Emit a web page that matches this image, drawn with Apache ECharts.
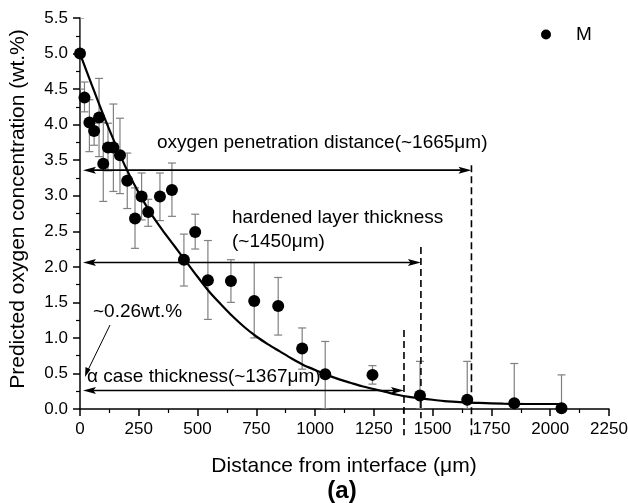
<!DOCTYPE html>
<html>
<head>
<meta charset="utf-8">
<script src="https://cdn.jsdelivr.net/npm/echarts@6/dist/echarts.min.js"></script>
<style>html,body{margin:0;padding:0;background:#fff}#c{width:628px;height:503px}</style>
</head>
<body>
<div id="c"></div>
<script>
// measured points (distance μm, oxygen wt.%)
const distances = [0, 19, 40, 60, 81, 99, 119, 142, 170, 201, 234, 262, 290, 340, 391, 442, 490, 544, 642, 741, 843, 945, 1043, 1244, 1446, 1647, 1847, 2048];
const oxygen    = [5.0, 4.38, 4.03, 3.91, 4.10, 3.45, 3.68, 3.68, 3.57, 3.21, 2.68, 2.99, 2.77, 2.99, 3.08, 2.10, 2.49, 1.81, 1.80, 1.52, 1.45, 0.85, 0.49, 0.48, 0.19, 0.13, 0.08, 0.01];
const errLow    = [4.5, 4.18, 3.62, 3.71, 3.55, 2.92, 3.35, 3.06, 3.03, 2.82, 2.26, 2.66, 2.57, 2.65, 2.71, 1.73, 2.25, 1.26, 1.50, 1.00, 1.04, 0.56, 0.0, 0.35, 0.0, 0.0, 0.0, 0.0];
const errHigh   = [5.5, 4.60, 4.35, 4.02, 4.65, 4.03, 4.02, 4.29, 4.09, 3.60, 3.11, 3.32, 2.95, 3.32, 3.46, 2.46, 2.74, 2.37, 2.10, 2.06, 1.85, 1.14, 0.95, 0.61, 0.67, 0.67, 0.64, 0.48];
// fitted curve
const fitX = [0, 50, 100, 150, 200, 250, 300, 350, 400, 450, 500, 550, 600, 650, 700, 750, 800, 850, 900, 950, 1000, 1050, 1100, 1150, 1200, 1250, 1300, 1350, 1400, 1450, 1500, 1550, 1600, 1650, 1700, 1800, 1900, 2000, 2050];
const fitY = [5.0, 4.56, 4.13, 3.73, 3.36, 3.04, 2.76, 2.52, 2.30, 2.08, 1.86, 1.65, 1.47, 1.30, 1.15, 1.02, 0.91, 0.81, 0.71, 0.62, 0.55, 0.48, 0.42, 0.37, 0.32, 0.28, 0.24, 0.20, 0.17, 0.15, 0.13, 0.11, 0.10, 0.09, 0.085, 0.075, 0.07, 0.07, 0.07];
// annotation levels
const arrowLevels = [3.36, 2.06, 0.26];
const arrowEnds   = [1665, 1450, 1378];
const dashX       = [1378, 1450, 1665];
const dashTop     = [1.11, 2.28, 3.43];
const dashBottom  = [-0.37, -0.13, -0.37];
const xTicks = { min: 0, max: 2250, step: 250 };
const yTicks = { min: 0, max: 5.5, step: 0.5 };

const FONT = 'Liberation Sans, Arial, sans-serif';
const chart = echarts.init(document.getElementById('c'), null, { renderer: 'canvas' });

function arrowHead(tip, dir) { // dir: -1 left, +1 right
  const L = 13, W = 3.5;
  return [tip, [tip[0] - dir * L, tip[1] - W], [tip[0] - dir * L * 0.8, tip[1]], [tip[0] - dir * L, tip[1] + W]];
}

const option = {
  backgroundColor: '#fff',
  animation: false,
  grid: { left: 80, right: 19, top: 18, bottom: 94, containLabel: false, outerBoundsMode: 'none' },
  legend: {
    data: [{ name: 'M', icon: 'circle' }],
    left: 536, top: 20, itemWidth: 10, itemHeight: 10,
    itemStyle: { opacity: 1 },
    textStyle: { fontSize: 19, fontFamily: FONT, color: '#000', padding: [0, 0, 0, 20] }
  },
  xAxis: {
    type: 'value', min: xTicks.min, max: xTicks.max, interval: xTicks.step,
    axisLine: { show: true, lineStyle: { color: '#000', width: 1.5 } },
    axisTick: { show: true, length: 7, lineStyle: { color: '#000', width: 1.5 } },
    minorTick: { show: true, splitNumber: 2, length: 4, lineStyle: { color: '#000', width: 1.2 } },
    splitLine: { show: false },
    axisLabel: { fontSize: 17, fontFamily: FONT, color: '#000', margin: 12, formatter: v => String(v) }
  },
  yAxis: {
    type: 'value', min: yTicks.min, max: yTicks.max, interval: yTicks.step,
    axisLine: { show: true, lineStyle: { color: '#000', width: 1.5 } },
    axisTick: { show: true, length: 7, lineStyle: { color: '#000', width: 1.5 } },
    minorTick: { show: true, splitNumber: 2, length: 4, lineStyle: { color: '#000', width: 1.2 } },
    splitLine: { show: false },
    axisLabel: { fontSize: 17, fontFamily: FONT, color: '#000', margin: 12, formatter: v => v.toFixed(1) }
  },
  series: [
    {
      name: 'err', type: 'custom', clip: true, z: 2,
      data: distances.map((x, i) => [x, errLow[i], errHigh[i]]),
      renderItem: function (params, api) {
        const x = api.value(0);
        const pHi = api.coord([x, api.value(2)]);
        const pLo = api.coord([x, api.value(1)]);
        const st = { stroke: '#808080', lineWidth: 1.2 };
        return { type: 'group', children: [
          { type: 'line', shape: { x1: pHi[0], y1: pHi[1], x2: pLo[0], y2: pLo[1] }, style: st },
          { type: 'line', shape: { x1: pHi[0] - 4, y1: pHi[1], x2: pHi[0] + 4, y2: pHi[1] }, style: st },
          { type: 'line', shape: { x1: pLo[0] - 4, y1: pLo[1], x2: pLo[0] + 4, y2: pLo[1] }, style: st }
        ] };
      }
    },
    {
      name: 'fit', type: 'line', z: 3, smooth: 0.3, showSymbol: false, symbol: 'none',
      data: fitX.map((x, i) => [x, fitY[i]]),
      lineStyle: { color: '#000', width: 2.2 }
    },
    {
      name: 'M', type: 'scatter', z: 4, symbol: 'circle', symbolSize: 12,
      itemStyle: { color: '#000', opacity: 1 },
      data: distances.map((x, i) => [x, oxygen[i]])
    },
    {
      name: 'arrows', type: 'custom', clip: false, z: 5,
      data: arrowLevels.map((y, i) => [0, y, arrowEnds[i]]),
      renderItem: function (params, api) {
        const a = api.coord([api.value(0), api.value(1)]);
        const b = api.coord([api.value(2), api.value(1)]);
        a[0] += 3;
        return { type: 'group', children: [
          { type: 'line', shape: { x1: a[0] + 8, y1: a[1], x2: b[0] - 8, y2: b[1] }, style: { stroke: '#000', lineWidth: 1.6 } },
          { type: 'polygon', shape: { points: arrowHead(a, -1) }, style: { fill: '#000' } },
          { type: 'polygon', shape: { points: arrowHead(b, 1) }, style: { fill: '#000' } }
        ] };
      }
    },
    {
      name: 'dashes', type: 'custom', clip: false, z: 5,
      data: dashX.map((x, i) => [x, dashBottom[i], dashTop[i]]),
      renderItem: function (params, api) {
        const t = api.coord([api.value(0), api.value(2)]);
        const b = api.coord([api.value(0), api.value(1)]);
        return { type: 'line', shape: { x1: t[0], y1: t[1], x2: b[0], y2: b[1] },
          style: { stroke: '#000', lineWidth: 1.6, lineDash: [7, 4] } };
      }
    }
  ],
  graphic: [
    { type: 'text', left: 157, top: 133, style: { text: 'oxygen penetration distance(~1665μm)', font: '19px ' + FONT, fill: '#000' } },
    { type: 'text', left: 232, top: 208, style: { text: 'hardened layer thickness', font: '19px ' + FONT, fill: '#000' } },
    { type: 'text', left: 232, top: 232, style: { text: '(~1450μm)', font: '19px ' + FONT, fill: '#000' } },
    { type: 'text', left: 93, top: 302, style: { text: '~0.26wt.%', font: '19px ' + FONT, fill: '#000' } },
    { type: 'text', left: 87, top: 367, style: { text: 'α case thickness(~1367μm)', font: '19px ' + FONT, fill: '#000' } },
    { type: 'line', shape: { x1: 110, y1: 325, x2: 88, y2: 370 }, style: { stroke: '#000', lineWidth: 1 } },
    { type: 'polygon', shape: { points: [[85, 377], [85.5, 367], [90.5, 369.5]] }, style: { fill: '#000' } },
    { type: 'text', x: 344, y: 466, style: { text: 'Distance from interface (μm)', font: '21px ' + FONT, fill: '#000', textAlign: 'center', textVerticalAlign: 'middle' } },
    { type: 'text', x: 342, y: 491, style: { text: '(a)', font: 'bold 24px ' + FONT, fill: '#000', textAlign: 'center', textVerticalAlign: 'middle' } },
    { type: 'text', x: 18, y: 209, rotation: Math.PI / 2, style: { text: 'Predicted oxygen concentration (wt.%)', font: '21px ' + FONT, fill: '#000', textAlign: 'center', textVerticalAlign: 'middle' } }
  ]
};
chart.setOption(option);
</script>
</body>
</html>
